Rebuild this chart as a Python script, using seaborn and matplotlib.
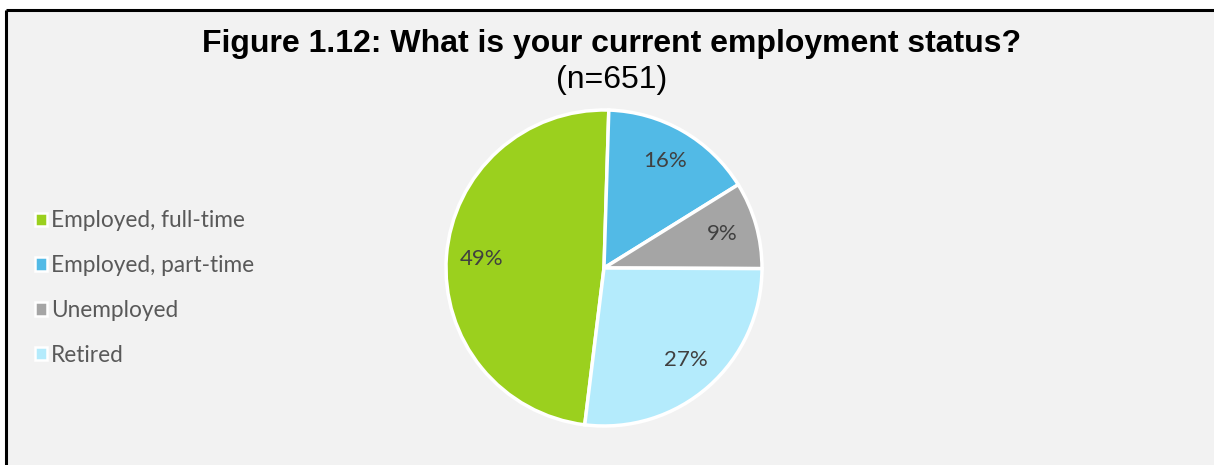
import matplotlib
matplotlib.use("Agg")
import matplotlib.pyplot as plt
from matplotlib.patches import Patch, Rectangle
from matplotlib.lines import Line2D
import seaborn as sns

# Survey responses (n=651)
categories = ["Employed, full-time", "Employed, part-time", "Unemployed", "Retired"]
counts = [316, 102, 58, 175]
colors = ["#9bd01e", "#52bae6", "#a5a5a5", "#b4ebfc"]
title = "Figure 1.12: What is your current employment status?"
subtitle = "(n=651)"

sns.set_theme(style="white")
plt.rcParams["font.family"] = ["Lato", "DejaVu Sans"]

W, H = 1214, 465
fig = plt.figure(figsize=(W / 100, H / 100), dpi=100, facecolor="white")

# chart area panel with a frame on the top and left
fig.patches.append(Rectangle((6 / W, 0), 1, (H - 10) / H, transform=fig.transFigure,
                             facecolor="#f2f2f2", edgecolor="none", zorder=-5))
fig.add_artist(Line2D([6 / W, 1], [(H - 10) / H] * 2, transform=fig.transFigure,
                      color="black", lw=2.2, solid_capstyle="butt", zorder=-4))
fig.add_artist(Line2D([6 / W] * 2, [0, (H - 10) / H], transform=fig.transFigure,
                      color="black", lw=2.2, solid_capstyle="butt", zorder=-4))

fig.text(612 / W, 1 - 52 / H, title, ha="center", va="baseline",
         fontsize=23, fontweight="bold", family="Liberation Sans", color="black")
fig.text(612 / W, 1 - 88 / H, subtitle, ha="center", va="baseline",
         fontsize=23, family="Liberation Sans", color="black")

# pie axes
cx, cy, r = 604, H - 268, 158
pad = 2
ax = fig.add_axes([(cx - r - pad) / W, (cy - r - pad) / H, 2 * (r + pad) / W, 2 * (r + pad) / H])
ax.set_facecolor("none")
start = 90 - 187  # first slice starts just past six o'clock, drawn clockwise
wedges, texts, autotexts = ax.pie(
    counts, colors=colors, startangle=start, counterclock=False,
    autopct=lambda p: f"{p:.0f}%", pctdistance=0.78,
    wedgeprops=dict(edgecolor="white", linewidth=2.5),
    textprops=dict(color="#404040", fontsize=16),
)
lim = (r + pad) / r
ax.set_xlim(-lim, lim)
ax.set_ylim(-lim, lim)
ax.set_aspect("equal")
ax.axis("off")

handles = [Patch(facecolor=c, edgecolor="white", linewidth=1.8) for c in colors]
leg = fig.legend(handles, categories, loc="center left",
                 bbox_to_anchor=(35 / W, 1 - 288 / H), frameon=False,
                 fontsize=16.3, labelcolor="#595959", handlelength=0.55,
                 handleheight=0.55, handletextpad=0.15, labelspacing=1.05,
                 borderaxespad=0, borderpad=0)

fig.savefig("out.png", dpi=100, facecolor="white")
